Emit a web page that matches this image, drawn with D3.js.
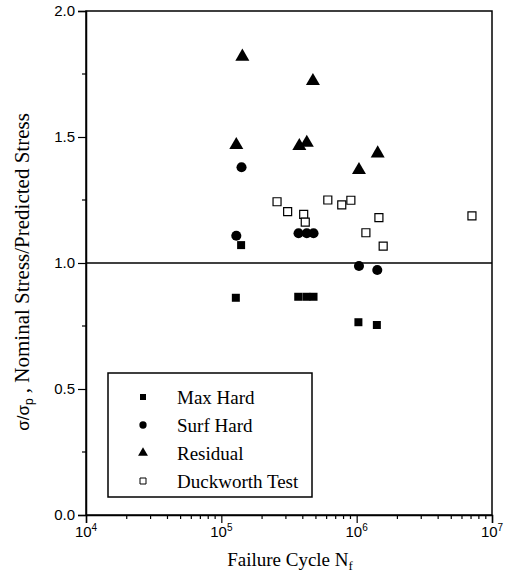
<!DOCTYPE html>
<html>
<head>
<meta charset="utf-8">
<script src="https://cdn.jsdelivr.net/npm/d3@7"></script>
<style>
  body { margin: 0; background: #fff; }
  svg { display: block; }
  .tick text { font-family: "Liberation Sans", Arial, sans-serif; font-size: 15px; fill: #000; }
  .serif { font-family: "Liberation Serif", "Times New Roman", serif; fill: #000; }
</style>
</head>
<body>
<div id="chart"></div>
<script>
// data: [failure cycles, stress ratio]
var maxHard = [[1.40e5, 1.071], [1.28e5, 0.862], [3.70e5, 0.866], [4.25e5, 0.866], [4.80e5, 0.866], [1.03e6, 0.765], [1.41e6, 0.754]];
var surfHard = [[1.41e5, 1.380], [1.29e5, 1.108], [3.72e5, 1.118], [4.28e5, 1.118], [4.80e5, 1.118], [1.04e6, 0.988], [1.42e6, 0.972]];
var residual = [[1.43e5, 1.819], [1.29e5, 1.468], [3.77e5, 1.464], [4.28e5, 1.477], [4.75e5, 1.722], [1.04e6, 1.369], [1.43e6, 1.435]];
var duckworth = [[2.58e5, 1.243], [3.09e5, 1.204], [4.06e5, 1.193], [4.17e5, 1.162], [6.12e5, 1.250], [7.76e5, 1.231], [9.06e5, 1.249], [1.46e6, 1.180], [1.17e6, 1.120], [1.57e6, 1.067], [7.11e6, 1.187]];

var legendNames = ["Max Hard", "Surf Hard", "Residual", "Duckworth Test"];
var xTickExps = [4, 5, 6, 7];
var yTicks = [0.0, 0.5, 1.0, 1.5, 2.0];
var refLine = 1.0;

function draw_chart() {
    var width = 515, height = 581;
    var pLeft = 86, pRight = 492, pTop = 11, pBottom = 515;

    var svg = d3.select("#chart").append("svg")
        .attr("width", width)
        .attr("height", height);

    var x = d3.scaleLog().domain([1e4, 1e7]).range([pLeft, pRight]);
    var y = d3.scaleLinear().domain([0, 2]).range([pBottom, pTop]);

    // frame
    svg.append("rect")
        .attr("x", pLeft).attr("y", pTop)
        .attr("width", pRight - pLeft).attr("height", pBottom - pTop)
        .attr("fill", "none").attr("stroke", "#000").attr("stroke-width", 1.5);

    // minor ticks
    var yMinor = [0.25, 0.75, 1.25, 1.75];
    svg.append("g").selectAll("line").data(yMinor).enter().append("line")
        .attr("x1", pLeft - 4).attr("x2", pLeft)
        .attr("y1", d => y(d)).attr("y2", d => y(d))
        .attr("stroke", "#000").attr("stroke-width", 1.2);

    var xMinor = [];
    [1e4, 1e5, 1e6].forEach(b => { for (var k = 2; k <= 9; k++) xMinor.push(b * k); });
    svg.append("g").selectAll("line").data(xMinor).enter().append("line")
        .attr("x1", d => x(d)).attr("x2", d => x(d))
        .attr("y1", pBottom).attr("y2", pBottom + 4)
        .attr("stroke", "#000").attr("stroke-width", 1.2);

    // y axis
    var yAxis = svg.append("g")
        .attr("transform", "translate(" + pLeft + ",0)")
        .call(d3.axisLeft(y).tickValues(yTicks).tickFormat(d3.format(".1f")).tickSize(8).tickPadding(3));
    yAxis.select(".domain").attr("stroke-width", 1.5);
    yAxis.selectAll(".tick line").attr("stroke-width", 1.2);

    // x axis
    var xAxis = svg.append("g")
        .attr("transform", "translate(0," + pBottom + ")")
        .call(d3.axisBottom(x).tickValues(xTickExps.map(e => Math.pow(10, e))).tickFormat("").tickSize(8));
    xAxis.select(".domain").attr("stroke-width", 1.5);
    xAxis.selectAll(".tick line").attr("stroke-width", 1.2);

    xTickExps.forEach(e => {
        var t = svg.append("text")
            .attr("x", x(Math.pow(10, e)))
            .attr("y", 537)
            .attr("text-anchor", "middle")
            .style("font-family", "Liberation Sans, Arial, sans-serif")
            .style("font-size", "15px");
        t.append("tspan").text("10");
        t.append("tspan").text(e).attr("dy", "-6").style("font-size", "10px");
    });

    // reference line at 1.0
    svg.append("line")
        .attr("x1", pLeft).attr("x2", pRight)
        .attr("y1", y(refLine)).attr("y2", y(refLine))
        .attr("stroke", "#000").attr("stroke-width", 1.5);

    // markers
    var series = [
        {data: maxHard, sym: d3.symbolSquare, size: 64, fill: "#000"},
        {data: surfHard, sym: d3.symbolCircle, size: 80, fill: "#000"},
        {data: residual, sym: d3.symbolTriangle, size: 85, fill: "#000"},
        {data: duckworth, sym: d3.symbolSquare, size: 64, fill: "#fff"}
    ];

    series.forEach(s => {
        svg.append("g").selectAll("path").data(s.data).enter().append("path")
            .attr("transform", d => "translate(" + x(d[0]) + "," + y(d[1]) + ")")
            .attr("d", d3.symbol().type(s.sym).size(s.size))
            .attr("fill", s.fill)
            .attr("stroke", "#000")
            .attr("stroke-width", s.fill == "#fff" ? 1.2 : 0);
    });

    // legend
    var lg = svg.append("g");
    lg.append("rect")
        .attr("x", 108).attr("y", 373).attr("width", 204).attr("height", 124)
        .attr("fill", "#fff").attr("stroke", "#000").attr("stroke-width", 1.5);
    var legendSizes = [36, 42, 42, 36];
    legendNames.forEach((name, i) => {
        var cy = 397 + i * 28;
        var s = series[i];
        lg.append("path")
            .attr("transform", "translate(143," + cy + ")")
            .attr("d", d3.symbol().type(s.sym).size(legendSizes[i]))
            .attr("fill", s.fill)
            .attr("stroke", "#000")
            .attr("stroke-width", s.fill == "#fff" ? 1 : 0);
        lg.append("text")
            .attr("class", "serif")
            .attr("x", 177).attr("y", cy + 7)
            .style("font-size", "19px")
            .text(name);
    });

    // x title
    var xt = svg.append("text")
        .attr("class", "serif")
        .attr("x", 290).attr("y", 566)
        .attr("text-anchor", "middle")
        .style("font-size", "19px");
    xt.append("tspan").text("Failure Cycle N");
    xt.append("tspan").text("f").attr("dy", 4).style("font-size", "13px");

    // y title
    var yt = svg.append("text")
        .attr("transform", "translate(29,272) rotate(-90)")
        .attr("text-anchor", "middle")
        .style("font-size", "21px");
    yt.append("tspan").text("σ/σ").style("font-family", "Liberation Sans, Arial, sans-serif").style("font-size", "17px");
    yt.append("tspan").text("p").attr("dy", 4).style("font-family", "Liberation Sans, Arial, sans-serif").style("font-size", "12px");
    yt.append("tspan").text(" ,  Nominal Stress/Predicted Stress").attr("dy", -4).attr("class", "serif");
}

draw_chart();
</script>
</body>
</html>
